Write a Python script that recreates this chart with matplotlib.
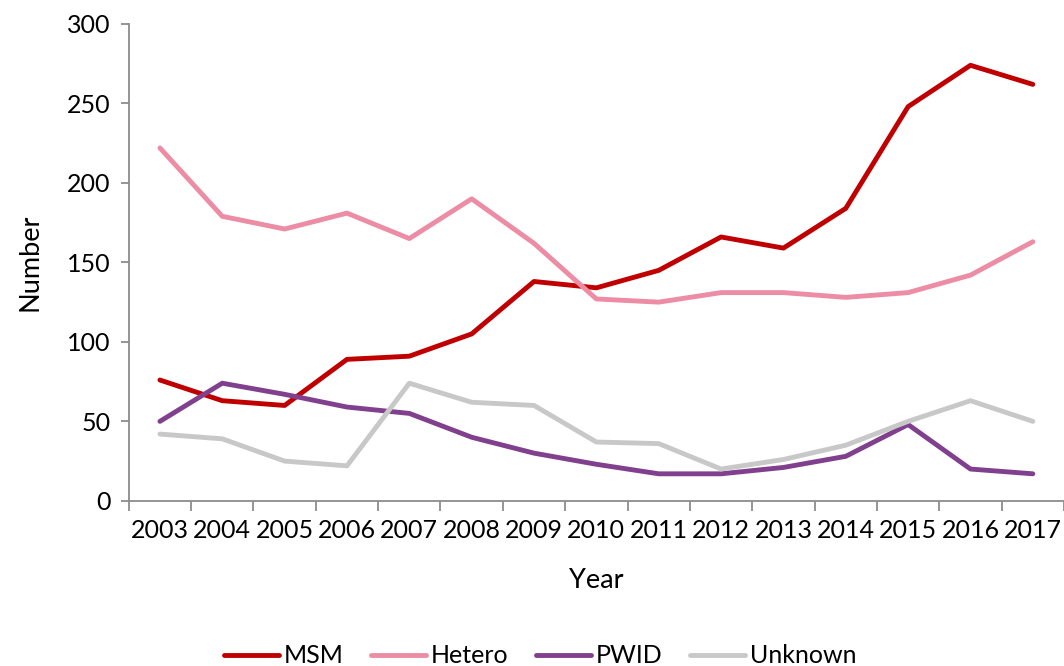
import numpy as np
import matplotlib.pyplot as plt

# ============================================================
# DATA
# ============================================================

years = ["2003", "2004", "2005", "2006", "2007", "2008", "2009", "2010",
         "2011", "2012", "2013", "2014", "2015", "2016", "2017"]

msm = [76, 63, 60, 89, 91, 105, 138, 134, 145, 166, 159, 184, 248, 274, 262]
hetero = [222, 179, 171, 181, 165, 190, 162, 127, 125, 131, 131, 128, 131, 142, 163]
pwid = [50, 74, 67, 59, 55, 40, 30, 23, 17, 17, 21, 28, 48, 20, 17]
unknown = [42, 39, 25, 22, 74, 62, 60, 37, 36, 20, 26, 35, 50, 63, 50]

series = [
    ("MSM", msm, "#C00000"),
    ("Hetero", hetero, "#EC8CA5"),
    ("PWID", pwid, "#80408E"),
    ("Unknown", unknown, "#C8C8C8"),
]

# ============================================================
# PLOT
# ============================================================

plt.rcParams["font.family"] = ["Lato", "DejaVu Sans"]

fig = plt.figure(figsize=(10.64, 6.66), dpi=100)
ax = fig.add_axes([0.121, 0.248, 0.879, 0.716])

x = np.arange(len(years))

for name, values, color in series:
    ax.plot(x, values, color=color, linewidth=3.5, label=name,
            solid_capstyle="round", solid_joinstyle="round")

ax.set_xlim(-0.5, len(years) - 0.5)
ax.set_ylim(0, 300)
ax.set_yticks(np.arange(0, 301, 50))

# category axis: labels centred, ticks between categories
ax.set_xticks(x)
ax.set_xticklabels(years)
ax.set_xticks(np.arange(-0.5, len(years), 1), minor=True)
ax.tick_params(axis="x", which="major", length=0, pad=13, labelsize=18)
ax.tick_params(axis="x", which="minor", length=7, width=1.3, color="#8C8C8C")
ax.tick_params(axis="y", length=6, width=1.3, color="#8C8C8C",
               labelsize=18, pad=7)

for side in ["top", "right"]:
    ax.spines[side].set_visible(False)
for side in ["left", "bottom"]:
    ax.spines[side].set_color("#8C8C8C")
    ax.spines[side].set_linewidth(1.3)

ax.set_xlabel("Year", fontsize=19.5, labelpad=19)
ax.set_ylabel("Number", fontsize=19.5, labelpad=18)

ax.legend(
    loc="center",
    bbox_to_anchor=(0.44, -0.325),
    ncol=4,
    frameon=False,
    fontsize=18,
    handlelength=2.2,
    handletextpad=0.2,
    columnspacing=1.1,
)

fig.savefig("out.png", dpi=100)
plt.close(fig)
